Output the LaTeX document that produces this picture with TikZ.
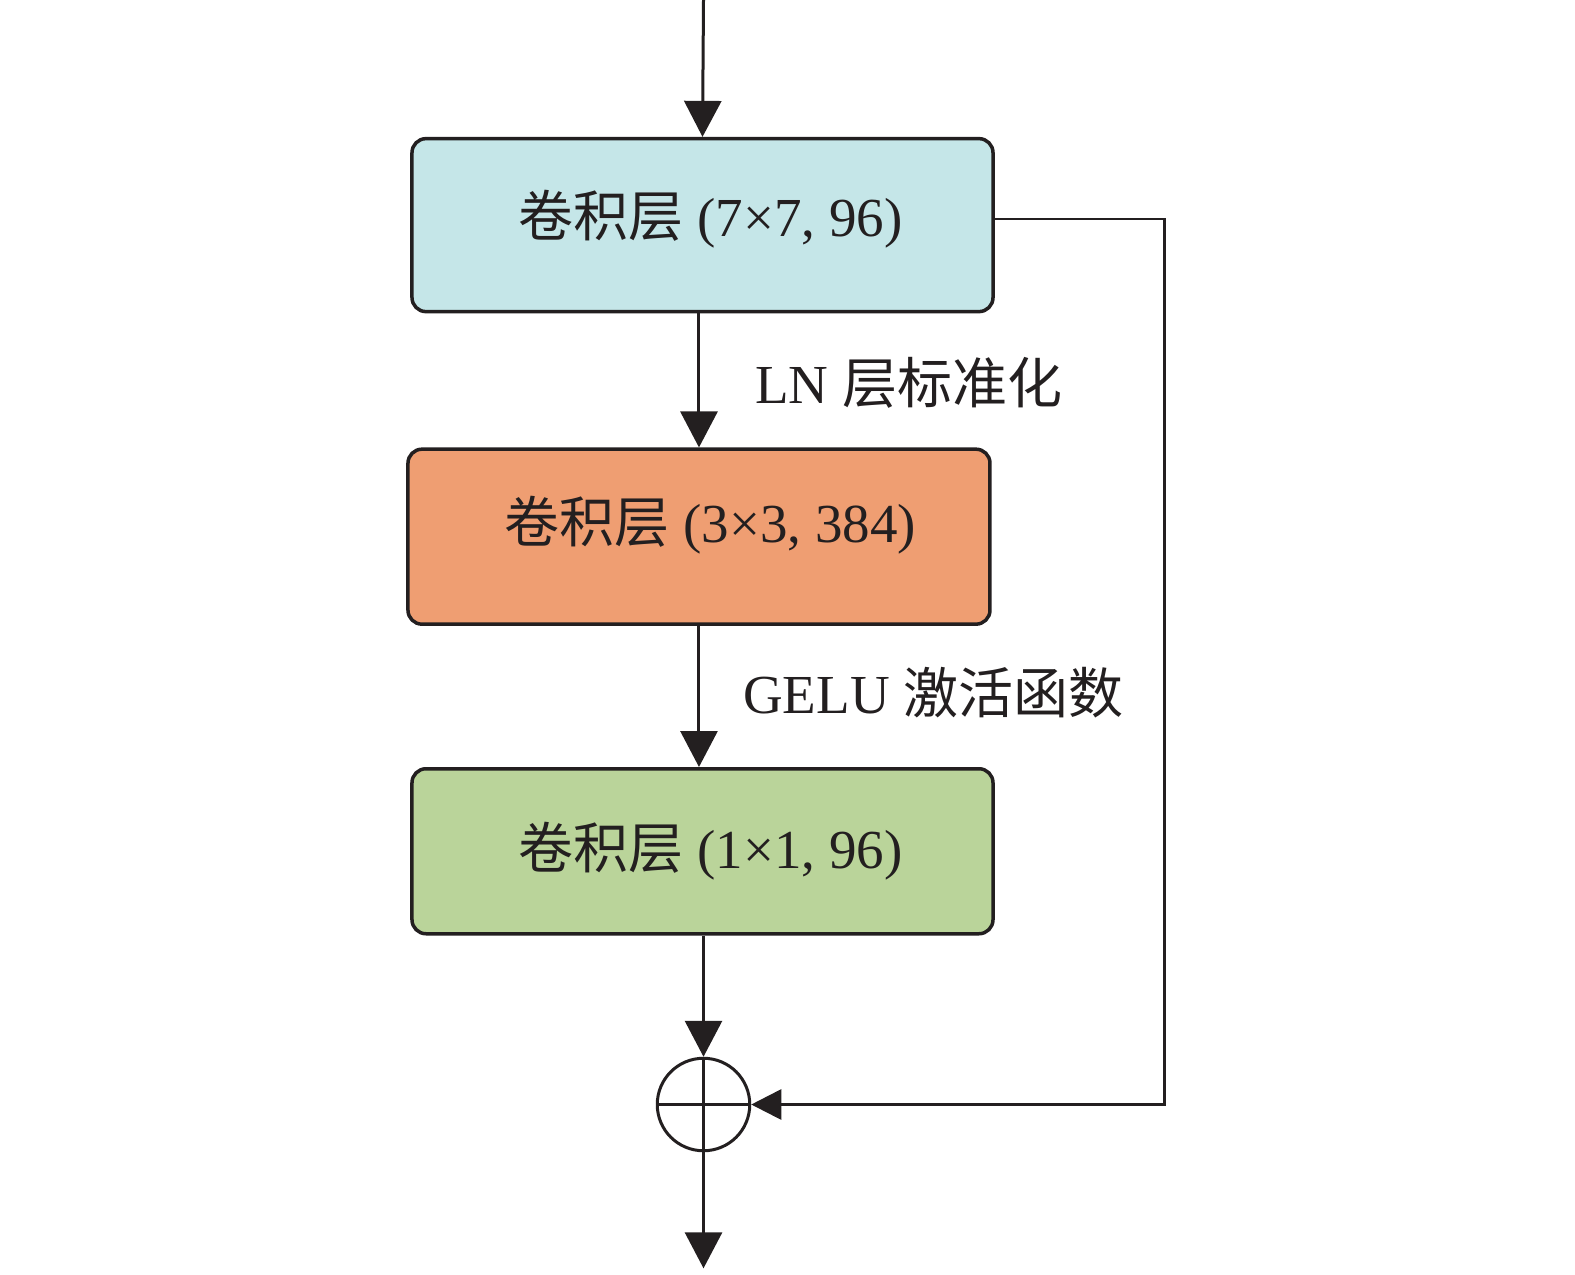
\documentclass[tikz,border=0pt]{standalone}
\usepackage{fontspec}
\setmainfont{Liberation Serif}
\newfontfamily\cjk{Noto Sans CJK SC}
\usetikzlibrary{arrows.meta}
\definecolor{cyanfill}{HTML}{C5E6E8}
\definecolor{orangefill}{HTML}{EF9E72}
\definecolor{greenfill}{HTML}{BAD49A}
\definecolor{ink}{HTML}{231F20}
\tikzset{
  convbox/.style={draw=ink, line width=3.5bp, rounded corners=14bp, inner sep=0pt},
  bigtext/.style={font=\fontsize{55bp}{64bp}\selectfont, text=ink},
  flow/.style={draw=ink, line width=3bp, -{Triangle[length=36bp,width=37bp]}},
  skipline/.style={draw=ink, line width=2.8bp, -{Triangle[length=30bp,width=30bp]}},
}
\begin{document}
\begin{tikzpicture}[x=1.005bp,y=-1.005bp]
\useasboundingbox (0,0) rectangle (1567.16,1267.66);
\node[convbox, fill=cyanfill, minimum width=581bp, minimum height=173bp] (b1) at (699,224) {};
\node[bigtext] (t1) at (707,218) {{\cjk 卷积层} (7×7, 96)};
\node[convbox, fill=orangefill, minimum width=582bp, minimum height=175bp] (b2) at (695.5,534) {};
\node[bigtext] (t2) at (707,523) {{\cjk 卷积层} (3×3, 384)};
\node[convbox, fill=greenfill, minimum width=581bp, minimum height=165bp] (b3) at (699,847) {};
\node[bigtext] (t3) at (707,847) {{\cjk 卷积层} (1×1, 96)};
\node[draw=ink, line width=3bp, circle, minimum size=92.5bp, inner sep=0pt] (sum) at (700,1099) {};
\draw[ink, line width=3bp] (sum.north) -- (sum.south) (sum.west) -- (sum.east);
\node[bigtext, anchor=west] (l1) at (748,381) {LN {\cjk 层标准化}};
\node[bigtext, anchor=west] (l2) at (736,689) {GELU {\cjk 激活函数}};
\coordinate (in) at (700,0);
\coordinate (out) at (700,1262);
\coordinate (skipout) at (b1.east |- t1);
\coordinate (skipcorner) at (1159,218);
\draw[flow] (in) -- (b1.north);
\draw[flow] (b2.north |- b1.south) -- (b2.north);
\draw[flow] (b2.south) -- (b2.south |- b3.north);
\draw[flow] (b3.south -| sum.north) -- (sum.north);
\draw[flow] (sum.south) -- (out);
\draw[skipline] (skipout) -- (skipcorner) |- (sum.east);
\end{tikzpicture}
\end{document}
